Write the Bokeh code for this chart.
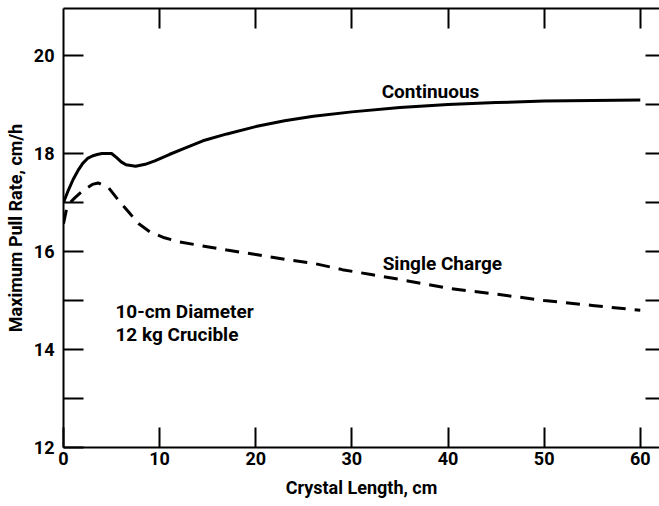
from bokeh.plotting import figure
from bokeh.models import Range1d, LinearAxis, FixedTicker, Label
from bokeh.embed import file_html
from bokeh.resources import INLINE

# Data
cont_x = [0, 0.5, 1, 1.5, 2, 2.5, 3, 3.5, 4, 5, 5.5, 6, 6.5, 7.5, 8.5, 9.5, 11, 12.5,
          14.5, 17, 20, 23, 26, 30, 35, 40, 45, 50, 55, 60]
cont_y = [17.0, 17.25, 17.47, 17.65, 17.8, 17.9, 17.95, 17.98, 18.0, 18.0, 17.92, 17.83,
          17.77, 17.74, 17.78, 17.85, 17.98, 18.1, 18.26, 18.4, 18.55, 18.67, 18.76,
          18.85, 18.94, 19.0, 19.04, 19.07, 19.08, 19.09]

single_x = [0, 0.3, 0.7, 1.2, 2, 3, 3.6, 4.7, 5.7, 6.8, 7.8, 9, 10.5, 12, 14, 17, 20,
            23, 26, 29, 32, 35, 40, 45, 50, 55, 60]
single_y = [16.57, 16.85, 17.0, 17.1, 17.24, 17.37, 17.4, 17.3, 17.05, 16.8, 16.57, 16.4,
            16.28, 16.2, 16.13, 16.03, 15.94, 15.84, 15.76, 15.63, 15.53, 15.43, 15.25,
            15.13, 15.0, 14.9, 14.8]

x_ticks = [0, 10, 20, 30, 40, 50, 60]
y_ticks = [12, 14, 16, 18, 20]
y_minor = [13, 15, 17, 19]

FONT = "Roboto"
FS = "18px"

p = figure(width=659, height=506, output_backend="svg", toolbar_location=None,
           x_range=Range1d(0, 62.0), y_range=Range1d(12, 20.96),
           x_axis_label="Crystal Length, cm", y_axis_label="Maximum Pull Rate, cm/h",
           min_border_left=63, min_border_top=8, min_border_right=0, min_border_bottom=59)
p.background_fill_color = "white"
p.border_fill_color = "white"
p.outline_line_color = None
p.grid.visible = False

for ax in [p.xaxis[0], p.yaxis[0]]:
    ax.axis_line_width = 2
    ax.axis_line_color = "black"
    ax.major_tick_in = 20
    ax.major_tick_out = 0
    ax.major_tick_line_width = 2
    ax.minor_tick_in = 20
    ax.minor_tick_out = 0
    ax.minor_tick_line_width = 2
    ax.major_label_text_font = FONT
    ax.major_label_text_font_style = "bold"
    ax.major_label_text_font_size = FS
    ax.major_label_text_color = "black"
    ax.axis_label_text_font = FONT
    ax.axis_label_text_font_style = "bold"
    ax.axis_label_text_font_size = FS
    ax.axis_label_text_color = "black"

p.xaxis[0].ticker = FixedTicker(ticks=x_ticks, minor_ticks=[])
p.xaxis[0].major_label_standoff = 4
p.xaxis[0].axis_label_standoff = 9
p.yaxis[0].ticker = FixedTicker(ticks=y_ticks, minor_ticks=y_minor)
p.yaxis[0].major_label_standoff = 9
p.yaxis[0].axis_label_standoff = 5

top = LinearAxis(ticker=FixedTicker(ticks=[], minor_ticks=x_ticks[1:]))
top.axis_line_width = 2
top.axis_line_color = "black"
top.minor_tick_in = 20
top.minor_tick_out = 0
top.minor_tick_line_width = 2
top.major_tick_line_color = None
p.add_layout(top, "above")

right = LinearAxis(ticker=FixedTicker(ticks=[], minor_ticks=y_minor + y_ticks[1:]))
right.axis_line_color = None
right.minor_tick_in = 14
right.minor_tick_out = 0
right.minor_tick_line_width = 2
right.major_tick_line_color = None
p.add_layout(right, "right")

p.line(cont_x, cont_y, line_color="black", line_width=3)
p.line(single_x, single_y, line_color="black", line_width=3, line_dash="14 9")

def add_label(x, y, t):
    p.add_layout(Label(x=x, y=y, text=t, text_font=FONT, text_font_style="bold",
                       text_font_size="19px", text_color="black", text_baseline="alphabetic"))

add_label(33.1, 19.26, "Continuous")
add_label(33.2, 15.75, "Single Charge")
add_label(5.4, 14.77, "10-cm Diameter")
add_label(5.4, 14.31, "12 kg Crucible")

open("out.html", "w").write(file_html(p, INLINE))
